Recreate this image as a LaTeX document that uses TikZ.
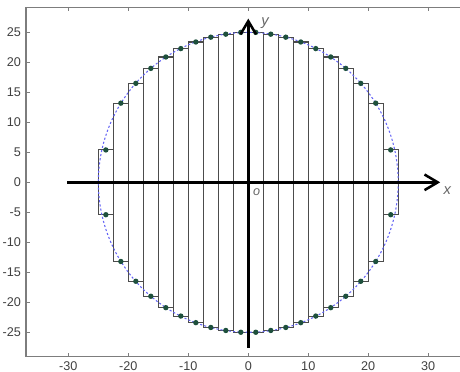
\documentclass[tikz,border=0pt]{standalone}
\usepackage{fontspec}
\setmainfont{Liberation Sans}
\usepackage{tikz}
\usetikzlibrary{arrows.meta}
\usepackage[dvipsnames]{xcolor}
\definecolor{dotgreen}{RGB}{30,80,60}
\definecolor{framegray}{RGB}{125,125,125}
\definecolor{curveblue}{RGB}{100,100,245}

\begin{document}
\begin{tikzpicture}[x=1mm,y=1mm,
  ticklabel/.style={font=\fontsize{6}{7}\selectfont,text=black!75,inner sep=1pt},
  axislabel/.style={font=\fontsize{7}{8}\selectfont\itshape,text=black!60,inner sep=0pt},
  strip/.style={draw=black!70,line width=0.5pt},
  axis/.style={line width=1.2pt,-{Straight Barb[length=2.2mm,width=2.6mm]}},
  dot/.style={fill=dotgreen}]
\useasboundingbox (-41.4,-31.6) rectangle (35.3,30.4);
% frame and ticks
\draw[framegray,line width=0.6pt] (36,29.2) -- (-37.05,29.2) -- (-37.05,-29.07) -- (36,-29.07);
\foreach \t in {-30,-20,...,30} {
  \draw[framegray] (\t,-29.07) -- (\t,-28.4);
  \draw[framegray] (\t,29.2) -- (\t,28.5);
  \node[ticklabel,anchor=north] at (\t,-29.5) {\t};
}
\foreach \t in {-25,-20,...,25} {
  \draw[framegray] (-37.05,\t) -- (-36.4,\t);
  \node[ticklabel,anchor=east] at (-37.5,\t) {\t};
}
% strips
\foreach \m/\h in {23.75/5.4,21.25/13.2,18.75/16.5,16.25/19.0,13.75/20.9,11.25/22.3,8.75/23.4,6.25/24.2,3.75/24.7,1.25/25.0} {
  \draw[strip] (-\m-1.25,-\h) rectangle (-\m+1.25,\h);
  \draw[strip] (\m-1.25,-\h) rectangle (\m+1.25,\h);
}
\draw[curveblue,line width=0.5pt,dash pattern=on 1pt off 1pt] (0,0) circle [radius=25];
\foreach \m/\h in {23.75/5.4,21.25/13.2,18.75/16.5,16.25/19.0,13.75/20.9,11.25/22.3,8.75/23.4,6.25/24.2,3.75/24.7,1.25/25.0} {
  \fill[dot] (\m,\h) circle [radius=0.45];
  \fill[dot] (-\m,\h) circle [radius=0.45];
  \fill[dot] (\m,-\h) circle [radius=0.45];
  \fill[dot] (-\m,-\h) circle [radius=0.45];
}
% axes
\coordinate (xstart) at (-30.2,0);
\coordinate (xend) at (32,0);
\coordinate (ystart) at (0,-27.6);
\coordinate (yend) at (0,27.3);
\draw[axis] (xstart) -- (xend);
\draw[axis] (ystart) -- (yend);
\node[axislabel] (xlab) at (33.2,-1.3) {x};
\node[axislabel] (ylab) at (2.8,26.6) {y};
\node[axislabel,font=\fontsize{6}{7}\selectfont\itshape] (origin) at (1.4,-1.6) {o};
\end{tikzpicture}
\end{document}
